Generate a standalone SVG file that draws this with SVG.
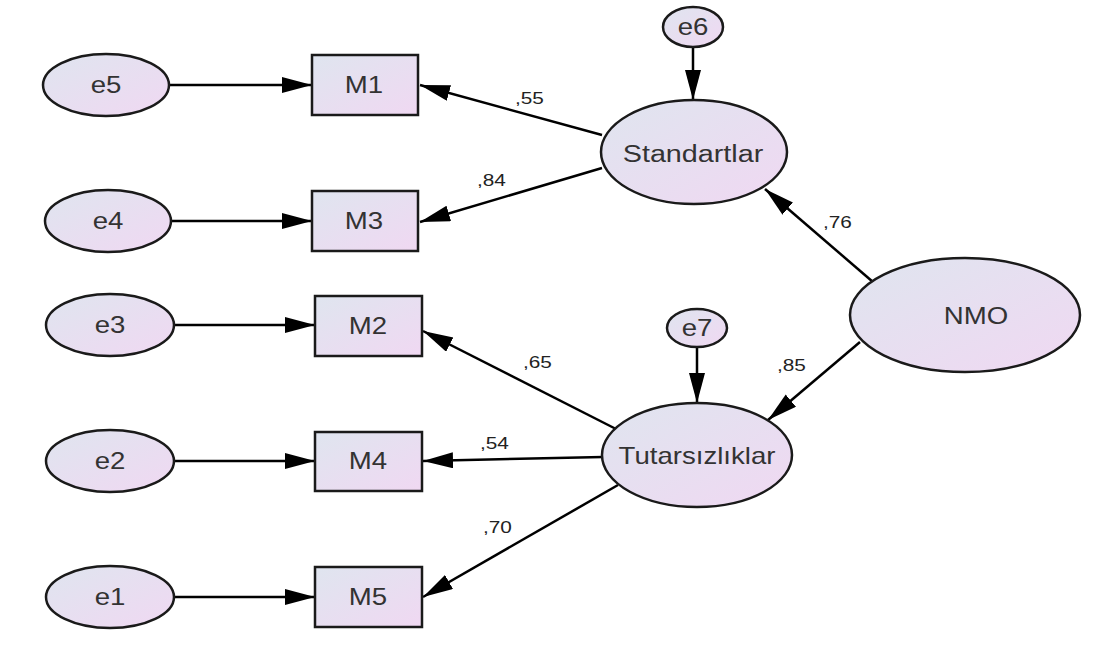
<svg xmlns="http://www.w3.org/2000/svg" width="1093" height="665" viewBox="0 0 1093 665">
<defs>
<linearGradient id="g" x1="0" y1="0" x2="1" y2="1">
<stop offset="0" stop-color="#dfe5ef"/>
<stop offset="1" stop-color="#f0d8f2"/>
</linearGradient>
<marker id="ah" markerUnits="userSpaceOnUse" markerWidth="32" markerHeight="18" refX="30" refY="8" orient="auto">
<path d="M0,0 L30,8 L0,16 z" fill="#000"/>
</marker>
</defs>
<style>
.n{fill:url(#g);stroke:#1a1a1a;stroke-width:2.5}
.t{font-family:"Liberation Sans",Arial,sans-serif;font-size:23px;fill:#333;text-anchor:middle;dominant-baseline:central}
.l{font-family:"Liberation Sans",Arial,sans-serif;font-size:16px;fill:#222}
.c{stroke:#000;stroke-width:2.5;fill:none;marker-end:url(#ah)}
</style>
<rect width="1093" height="665" fill="#fff"/>
<g id="connectors">
<line class="c" x1="169" y1="85" x2="312" y2="85"/>
<line class="c" x1="172" y1="221" x2="312" y2="221"/>
<line class="c" x1="174" y1="325" x2="315" y2="325"/>
<line class="c" x1="174" y1="461" x2="315" y2="461"/>
<line class="c" x1="174" y1="597" x2="315" y2="597"/>
<line class="c" x1="602" y1="135" x2="420" y2="85"/>
<line class="c" x1="602" y1="168" x2="420" y2="222"/>
<line class="c" x1="693" y1="47" x2="693" y2="100"/>
<line class="c" x1="697" y1="347" x2="697" y2="403"/>
<line class="c" x1="873" y1="282" x2="765" y2="189"/>
<line class="c" x1="860" y1="342" x2="768" y2="420"/>
<line class="c" x1="618" y1="430" x2="423" y2="331"/>
<line class="c" x1="603" y1="457" x2="423" y2="461"/>
<line class="c" x1="618" y1="485" x2="423" y2="597"/>
</g>
<g id="labels">
<text class="l" transform="translate(515,104) scale(1.3,1)">,55</text>
<text class="l" transform="translate(477,186) scale(1.3,1)">,84</text>
<text class="l" transform="translate(823,228) scale(1.3,1)">,76</text>
<text class="l" transform="translate(523,368) scale(1.3,1)">,65</text>
<text class="l" transform="translate(480,449) scale(1.3,1)">,54</text>
<text class="l" transform="translate(483,533) scale(1.3,1)">,70</text>
<text class="l" transform="translate(777,371) scale(1.3,1)">,85</text>
</g>
<g id="e5"><ellipse class="n" cx="106" cy="85" rx="63" ry="31"/><text class="t" transform="translate(106,85) scale(1.2,1)">e5</text></g>
<g id="e4"><ellipse class="n" cx="108" cy="221" rx="63" ry="31"/><text class="t" transform="translate(108,221) scale(1.2,1)">e4</text></g>
<g id="e3"><ellipse class="n" cx="110" cy="325" rx="64" ry="31"/><text class="t" transform="translate(110,325) scale(1.2,1)">e3</text></g>
<g id="e2"><ellipse class="n" cx="110" cy="461" rx="64" ry="31"/><text class="t" transform="translate(110,461) scale(1.2,1)">e2</text></g>
<g id="e1"><ellipse class="n" cx="110" cy="597" rx="64" ry="31"/><text class="t" transform="translate(110,597) scale(1.2,1)">e1</text></g>
<g id="M1"><rect class="n" x="312" y="55" width="106" height="60"/><text class="t" transform="translate(364,85) scale(1.2,1)">M1</text></g>
<g id="M3"><rect class="n" x="312" y="191" width="106" height="60"/><text class="t" transform="translate(364,221) scale(1.2,1)">M3</text></g>
<g id="M2"><rect class="n" x="315" y="296" width="107" height="60"/><text class="t" transform="translate(368,326) scale(1.2,1)">M2</text></g>
<g id="M4"><rect class="n" x="315" y="432" width="107" height="59"/><text class="t" transform="translate(368,461) scale(1.2,1)">M4</text></g>
<g id="M5"><rect class="n" x="315" y="567" width="107" height="60"/><text class="t" transform="translate(368,597) scale(1.2,1)">M5</text></g>
<g id="e6"><ellipse class="n" cx="693" cy="27" rx="30" ry="20"/><text class="t" transform="translate(693,27) scale(1.2,1)">e6</text></g>
<g id="Standartlar"><ellipse class="n" cx="694" cy="152" rx="93" ry="52"/><text class="t" transform="translate(693,154) scale(1.25,1)">Standartlar</text></g>
<g id="NMO"><ellipse class="n" cx="965" cy="315" rx="115" ry="57"/><text class="t" transform="translate(976,316) scale(1.2,1)">NMO</text></g>
<g id="e7"><ellipse class="n" cx="697" cy="328" rx="30" ry="19"/><text class="t" transform="translate(697,328) scale(1.2,1)">e7</text></g>
<g id="Tutarsizliklar"><ellipse class="n" cx="697" cy="455" rx="95" ry="52"/><text class="t" transform="translate(697,456) scale(1.2,1)">Tutarsızlıklar</text></g>
</svg>
